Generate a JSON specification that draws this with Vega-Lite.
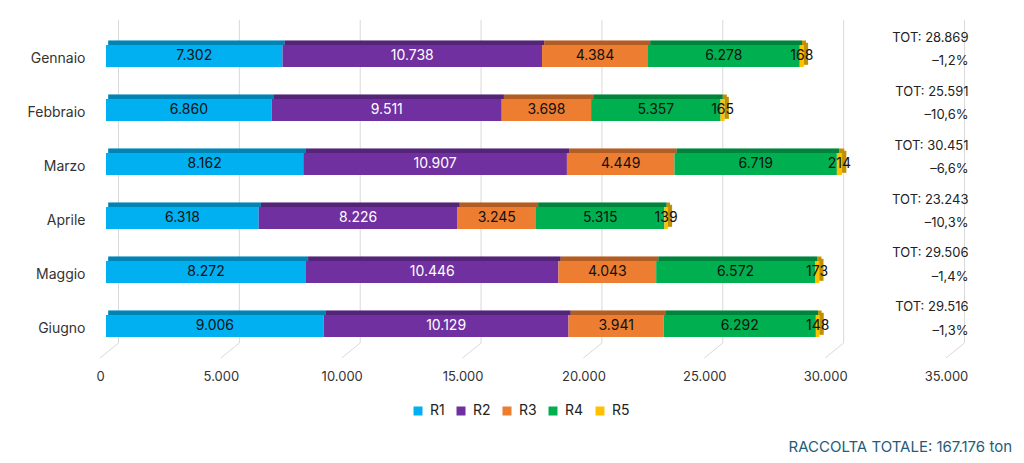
{
  "$schema": "https://vega.github.io/schema/vega-lite/v6.json",
  "width": 846,
  "height": 338,
  "autosize": {"type": "none"},
  "padding": {"left": 106, "top": 20, "right": 72, "bottom": 105},
  "background": "white",
  "config": {
    "locale": {"number": {"decimal": ",", "thousands": ".", "grouping": [3], "currency": ["€", ""]}},
    "font": "Inter",
    "view": {"stroke": null},
    "axis": {"grid": false, "domain": false, "ticks": false, "labelFont": "Inter", "labelColor": "#333333"},
    "axisX": {"tickCount": 7, "format": ",d", "labelOffset": -6, "labelPadding": 12, "labelFontSize": 13, "labelFlush": false},
    "axisY": {"labelPadding": 21, "labelOffset": 3, "labelFontSize": 14},
    "legend": {"orient": "none", "legendX": 305, "legendY": 384, "direction": "horizontal", "symbolType": "square", "symbolSize": 81, "symbolStrokeWidth": 0, "labelFontSize": 14, "labelColor": "#222222", "labelFont": "Inter", "columnPadding": 9, "labelOffset": 5, "padding": 0}
  },
  "title": {
    "text": "RACCOLTA TOTALE: 167.176 ton",
    "orient": "bottom",
    "anchor": "end",
    "frame": "group",
    "color": "#1E5D7B",
    "fontSize": 15,
    "fontWeight": "normal",
    "font": "Inter",
    "dx": 60,
    "offset": 22
  },
  "datasets": {
    "righe": [
      {"mese": "Gennaio", "serie": "R1", "valore": 7302},
      {"mese": "Gennaio", "serie": "R2", "valore": 10738},
      {"mese": "Gennaio", "serie": "R3", "valore": 4384},
      {"mese": "Gennaio", "serie": "R4", "valore": 6278},
      {"mese": "Gennaio", "serie": "R5", "valore": 168},
      {"mese": "Febbraio", "serie": "R1", "valore": 6860},
      {"mese": "Febbraio", "serie": "R2", "valore": 9511},
      {"mese": "Febbraio", "serie": "R3", "valore": 3698},
      {"mese": "Febbraio", "serie": "R4", "valore": 5357},
      {"mese": "Febbraio", "serie": "R5", "valore": 165},
      {"mese": "Marzo", "serie": "R1", "valore": 8162},
      {"mese": "Marzo", "serie": "R2", "valore": 10907},
      {"mese": "Marzo", "serie": "R3", "valore": 4449},
      {"mese": "Marzo", "serie": "R4", "valore": 6719},
      {"mese": "Marzo", "serie": "R5", "valore": 214},
      {"mese": "Aprile", "serie": "R1", "valore": 6318},
      {"mese": "Aprile", "serie": "R2", "valore": 8226},
      {"mese": "Aprile", "serie": "R3", "valore": 3245},
      {"mese": "Aprile", "serie": "R4", "valore": 5315},
      {"mese": "Aprile", "serie": "R5", "valore": 139},
      {"mese": "Maggio", "serie": "R1", "valore": 8272},
      {"mese": "Maggio", "serie": "R2", "valore": 10446},
      {"mese": "Maggio", "serie": "R3", "valore": 4043},
      {"mese": "Maggio", "serie": "R4", "valore": 6572},
      {"mese": "Maggio", "serie": "R5", "valore": 173},
      {"mese": "Giugno", "serie": "R1", "valore": 9006},
      {"mese": "Giugno", "serie": "R2", "valore": 10129},
      {"mese": "Giugno", "serie": "R3", "valore": 3941},
      {"mese": "Giugno", "serie": "R4", "valore": 6292},
      {"mese": "Giugno", "serie": "R5", "valore": 148}
    ],
    "totali": [
      {"mese": "Gennaio", "tot": "TOT: 28.869", "var": "–1,2%"},
      {"mese": "Febbraio", "tot": "TOT: 25.591", "var": "–10,6%"},
      {"mese": "Marzo", "tot": "TOT: 30.451", "var": "–6,6%"},
      {"mese": "Aprile", "tot": "TOT: 23.243", "var": "–10,3%"},
      {"mese": "Maggio", "tot": "TOT: 29.506", "var": "–1,4%"},
      {"mese": "Giugno", "tot": "TOT: 29.516", "var": "–1,3%"}
    ],
    "griglia": [
      {"v": 0}, {"v": 5000}, {"v": 10000}, {"v": 15000},
      {"v": 20000}, {"v": 25000}, {"v": 30000}, {"v": 35000}
    ]
  },
  "layer": [
    {
      "data": {"name": "griglia"},
      "mark": {"type": "rule", "color": "#D9D9D9", "strokeWidth": 1, "xOffset": 12.5, "y2Offset": -15},
      "encoding": {
        "x": {"field": "v", "type": "quantitative", "title": null, "scale": {"domain": [0, 35000], "nice": false}},
        "y": {"value": 0},
        "y2": {"value": "height"}
      }
    },
    {
      "data": {"name": "griglia"},
      "mark": {"type": "rule", "color": "#D9D9D9", "strokeWidth": 1, "xOffset": -6, "x2Offset": 12.5, "y2Offset": -15},
      "encoding": {
        "x": {"field": "v", "type": "quantitative", "title": null},
        "x2": {"field": "v"},
        "y": {"value": "height"},
        "y2": {"value": "height"}
      }
    },
    {
      "data": {"name": "righe"},
      "transform": [
        {"stack": "valore", "groupby": ["mese"], "sort": [{"field": "serie", "order": "ascending"}], "as": ["x0", "x1"]}
      ],
      "layer": [
        {
          "mark": {"type": "bar", "size": 4.5, "yOffset": -13.2, "xOffset": 2.2, "x2Offset": 2.2},
          "encoding": {
            "x": {"field": "x0", "type": "quantitative", "title": null},
            "x2": {"field": "x1"},
            "y": {"field": "mese", "type": "nominal", "title": null, "sort": ["Gennaio", "Febbraio", "Marzo", "Aprile", "Maggio", "Giugno"]},
            "color": {"field": "serie", "type": "nominal", "title": null, "scale": {"domain": ["R1", "R2", "R3", "R4", "R5"], "range": ["#00B0F0", "#7030A0", "#ED7D31", "#00B050", "#FFC000"]}}
          }
        },
        {
          "mark": {"type": "bar", "size": 4.5, "yOffset": -13.2, "xOffset": 2.2, "x2Offset": 2.2, "color": "black", "opacity": 0.25},
          "encoding": {
            "x": {"field": "x0", "type": "quantitative", "title": null},
            "x2": {"field": "x1"},
            "y": {"field": "mese", "type": "nominal", "title": null, "sort": ["Gennaio", "Febbraio", "Marzo", "Aprile", "Maggio", "Giugno"]}
          }
        },
        {
          "mark": {"type": "bar"},
          "encoding": {
            "x": {"field": "x0", "type": "quantitative", "title": null, "scale": {"domain": [0, 35000], "nice": false}},
            "x2": {"field": "x1"},
            "y": {
              "field": "mese", "type": "nominal", "title": null,
              "sort": ["Gennaio", "Febbraio", "Marzo", "Aprile", "Maggio", "Giugno"],
              "scale": {"paddingInner": 0.5926, "paddingOuter": 0.426, "align": 0.5435}
            },
            "color": {
              "field": "serie", "type": "nominal", "title": null,
              "scale": {"domain": ["R1", "R2", "R3", "R4", "R5"], "range": ["#00B0F0", "#7030A0", "#ED7D31", "#00B050", "#FFC000"]}
            }
          }
        },
        {
          "transform": [{"filter": "datum.serie === 'R5'"}],
          "mark": {"type": "bar", "size": 22, "yOffset": -2.2, "x2Offset": 4.3, "color": "#BF9000"},
          "encoding": {
            "x": {"field": "x1", "type": "quantitative", "title": null},
            "x2": {"field": "x1"},
            "y": {"field": "mese", "type": "nominal", "title": null, "sort": ["Gennaio", "Febbraio", "Marzo", "Aprile", "Maggio", "Giugno"]}
          }
        },
        {
          "transform": [
            {"fold": ["x0", "x1"], "as": ["k", "v"]},
            {"aggregate": [{"op": "mean", "field": "v", "as": "mid"}], "groupby": ["mese", "serie", "valore"]}
          ],
          "mark": {"type": "text", "fontSize": 14, "baseline": "middle", "align": "center", "font": "Inter"},
          "encoding": {
            "x": {"field": "mid", "type": "quantitative", "title": null},
            "y": {"field": "mese", "type": "nominal", "title": null, "sort": ["Gennaio", "Febbraio", "Marzo", "Aprile", "Maggio", "Giugno"]},
            "text": {"field": "valore", "type": "quantitative", "format": ",d"},
            "color": {"condition": {"test": "datum.serie === 'R2'", "value": "#FFFFFF"}, "value": "#111111"}
          }
        }
      ]
    },
    {
      "data": {"name": "totali"},
      "mark": {"type": "text", "fontSize": 13, "color": "#222222", "align": "right", "baseline": "middle", "dx": 16.5, "dy": -18.5, "font": "Inter"},
      "encoding": {
        "x": {"datum": 35000, "type": "quantitative", "title": null},
        "y": {"field": "mese", "type": "nominal", "title": null, "sort": ["Gennaio", "Febbraio", "Marzo", "Aprile", "Maggio", "Giugno"]},
        "text": {"field": "tot"}
      }
    },
    {
      "data": {"name": "totali"},
      "mark": {"type": "text", "fontSize": 13, "color": "#222222", "align": "right", "baseline": "middle", "dx": 16.5, "dy": 4.7, "font": "Inter"},
      "encoding": {
        "x": {"datum": 35000, "type": "quantitative", "title": null},
        "y": {"field": "mese", "type": "nominal", "title": null, "sort": ["Gennaio", "Febbraio", "Marzo", "Aprile", "Maggio", "Giugno"]},
        "text": {"field": "var"}
      }
    }
  ]
}
